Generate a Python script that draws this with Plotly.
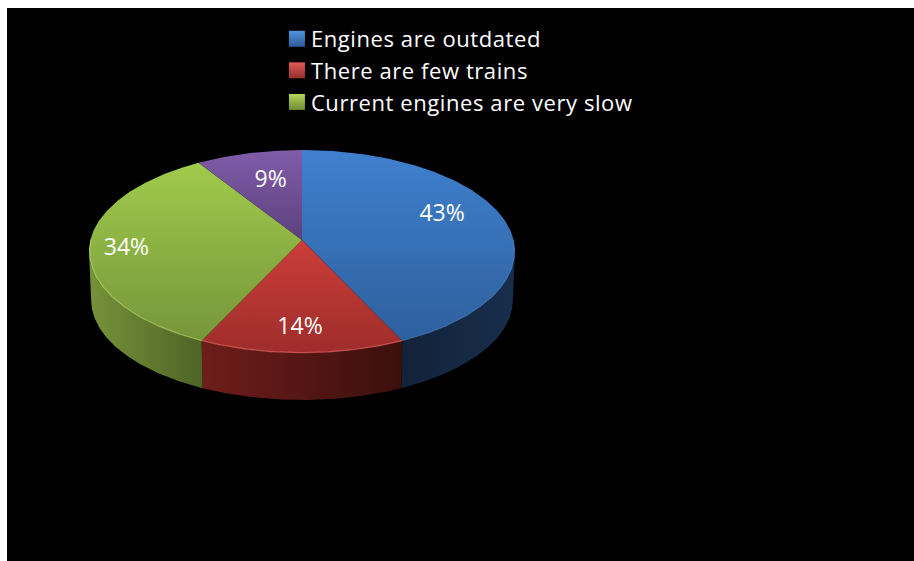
import numpy as np
import plotly.graph_objects as go

categories = ["Engines are outdated", "There are few trains", "Current engines are very slow", "Other"]
shares = [43, 14, 34, 9]
in_legend = [True, True, True, False]
labels = ["43%", "14%", "34%", "9%"]

top_colors = [("#3F80CE", "#2D5F9C"), ("#CC3D39", "#9E2D2B"), ("#A0CB4C", "#76953A"), ("#815CA9", "#5C417D")]
top_spans = [(150, 345), (240, 352), (163, 342), (150, 240)]
side_colors = [("#122339", "#182E4C"), ("#6E1D1B", "#3B0F0D"), ("#76923A", "#4E6426"), ("#000000", "#000000")]
side_spans = [(402, 515), (202, 402), (90, 202), (0, 1)]
rim_colors = ["rgba(110,160,225,0.18)", "rgba(235,110,105,0.55)", "rgba(190,225,110,0.5)", "rgba(0,0,0,0)"]
swatch_colors = [("#4F93DE", "#2C5C98"), ("#DE5A55", "#96302D"), ("#B4D75C", "#6F8C33")]
label_nudge = [(-2, -10), (-2, 12), (-27, 5), (7, 4)]

CX, CY, A, B, K = 302.0, 240.0, 211.6, 100.2, 0.1133
DEPTH_CY0, DEPTH_CY1, DEPTH_SCALE_X, DEPTH_SCALE_Y = 251.5, 300.0, 0.99, 0.985
FONT = "Open Sans"


def project(theta, r=1.0):
    u, v = r * np.sin(theta), r * np.cos(theta)
    d = 1 + K * v
    return CX + A * u / d, CY - B * v / d


def lower(x, y):
    return CX + (x - CX) * DEPTH_SCALE_X, DEPTH_CY1 + (y - DEPTH_CY0) * DEPTH_SCALE_Y


edges = np.cumsum([0] + shares) / sum(shares) * 2 * np.pi
silhouette = np.arccos(-K)
fig = go.Figure()

# front wall, bounded by the left and right silhouette of the disc
for i in range(4):
    a, b = max(edges[i], silhouette), min(edges[i + 1], 2 * np.pi - silhouette)
    if a >= b:
        continue
    t = np.linspace(a, b, 120)
    xt, yt = project(t)
    xb, yb = lower(xt, yt)
    fig.add_trace(go.Scatter(
        x=np.r_[xt, xb[::-1]], y=np.r_[yt, yb[::-1]], mode="lines", line=dict(width=0),
        fill="toself", hoverinfo="skip", showlegend=False,
        fillgradient=dict(type="horizontal", start=side_spans[i][0], stop=side_spans[i][1],
                          colorscale=[[0, side_colors[i][0]], [1, side_colors[i][1]]])))

# top face
for i in range(4):
    t = np.linspace(edges[i], edges[i + 1], 200)
    xt, yt = project(t)
    fig.add_trace(go.Scatter(
        x=np.r_[CX, xt, CX], y=np.r_[CY, yt, CY], mode="lines", line=dict(width=0),
        fill="toself", hoverinfo="skip", showlegend=False,
        fillgradient=dict(type="vertical", start=top_spans[i][0], stop=top_spans[i][1],
                          colorscale=[[0, top_colors[i][0]], [1, top_colors[i][1]]])))

# lit rim along the front edge
for i in range(3):
    a, b = max(edges[i], np.radians(90)), min(edges[i + 1], np.radians(270))
    t = np.linspace(a, b, 120)
    xt, yt = project(t, 0.997)
    fig.add_trace(go.Scatter(x=xt, y=yt, mode="lines", line=dict(width=1.4, color=rim_colors[i]),
                             hoverinfo="skip", showlegend=False))

# value labels
mids = (edges[:-1] + edges[1:]) / 2
lx, ly = project(mids, 0.7)
lx = lx + np.array([n[0] for n in label_nudge])
ly = ly + np.array([n[1] for n in label_nudge])
fig.add_trace(go.Scatter(x=lx, y=ly, mode="text", text=labels, textposition="middle center",
                         textfont=dict(family=FONT, size=23, color="white"),
                         hoverinfo="skip", showlegend=False))

# legend entries
shown_names = [n for n, s in zip(categories, in_legend) if s]
for name, (c0, c1) in zip(shown_names, swatch_colors):
    fig.add_trace(go.Scatter(x=[None], y=[None], mode="markers", name=name,
                             marker=dict(symbol="square", size=16, color=c0,
                                         gradient=dict(type="vertical", color=c1),
                                         line=dict(width=0))))

fig.update_layout(
    width=914, height=561,
    margin=dict(l=7, r=0, t=8, b=0, pad=0),
    paper_bgcolor="white", plot_bgcolor="black",
    xaxis=dict(range=[7, 914], visible=False, fixedrange=True),
    yaxis=dict(range=[561, 8], visible=False, fixedrange=True),
    font=dict(family=FONT, color="white"),
    legend=dict(x=0.291, y=0.982, xanchor="left", yanchor="top", bgcolor="rgba(0,0,0,0)",
                font=dict(family=FONT, size=22, color="white"), itemwidth=30),
)
fig.write_html("out.html", config=dict(displayModeBar=False),
               post_script="document.body.style.margin='0';"
                           "document.querySelectorAll('.legend .scatterpts').forEach(function(p){"
                           "p.setAttribute('transform','translate(26,0)');});"
                           "document.querySelectorAll('.legend .legendtext').forEach(function(t){"
                           "t.style.letterSpacing='0.58px';});"
                           "document.querySelectorAll('.legend, .legend [clip-path]').forEach(function(g){"
                           "g.removeAttribute('clip-path');});")
